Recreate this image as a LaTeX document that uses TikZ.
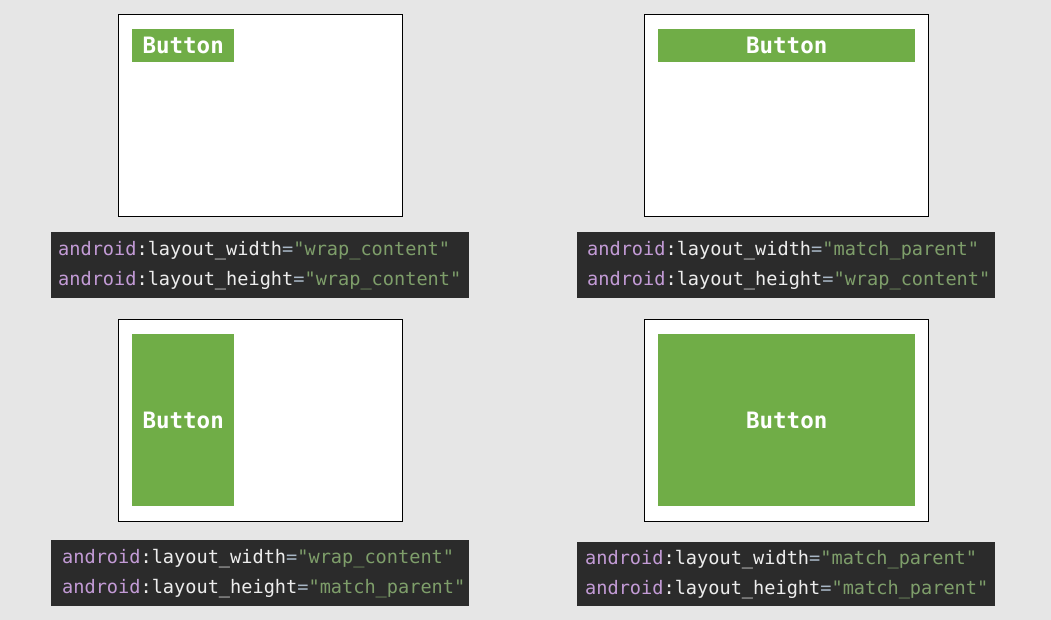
\documentclass[tikz,border=0pt]{standalone}
\usepackage{fontspec}
\setmonofont{DejaVu Sans Mono}
\usepackage{xcolor}
\definecolor{pagebg}{HTML}{E6E6E6}
\definecolor{codebg}{HTML}{2B2B2B}
\definecolor{btngreen}{HTML}{70AD47}
\definecolor{attrpurple}{HTML}{C39BD6}
\definecolor{attrwhite}{HTML}{EDEDED}
\definecolor{eqgray}{HTML}{A9B7C6}
\definecolor{strgreen}{HTML}{7E9E6A}
\newcommand{\xmlattr}[2]{\textcolor{attrpurple}{android}\textcolor{attrwhite}{:#1}\textcolor{eqgray}{=}\textcolor{strgreen}{"#2"}}
\tikzset{
  panel/.style={draw=black,fill=white,line width=0.8pt,anchor=north west,minimum width=284pt,minimum height=202pt,inner sep=0pt},
  btn/.style={fill=btngreen,text=white,anchor=north west,inner sep=0pt,font=\ttfamily\bfseries\fontsize{22.5}{24}\selectfont},
  codebox/.style={fill=codebg,anchor=north west,inner ysep=0pt,inner xsep=7pt,text width=404pt,minimum height=66pt,align=left,font=\ttfamily\fontsize{18.6}{30}\selectfont}
}
\begin{document}
\begin{tikzpicture}[x=1pt,y=-1pt]
	\useasboundingbox[fill=pagebg] (0,0) rectangle (1051,620);
	% wrap / wrap
	\node[panel] at (118,14) (p1) {};
	\node[btn,minimum width=102pt,minimum height=33pt] at (132,29) (b1) {Button};
	\node[codebox] at (51,232) (c1) {\xmlattr{layout\_width}{wrap\_content}\\\xmlattr{layout\_height}{wrap\_content}};
	% match / wrap
	\node[panel] at (644,14) (p2) {};
	\node[btn,minimum width=257pt,minimum height=33pt] at (658,29) (b2) {Button};
	\node[codebox,inner xsep=10pt,text width=398pt] at (577,232) (c2) {\xmlattr{layout\_width}{match\_parent}\\\xmlattr{layout\_height}{wrap\_content}};
	% wrap / match
	\node[panel] at (118,319) (p3) {};
	\node[btn,minimum width=102pt,minimum height=172pt] at (132,334) (b3) {Button};
	\node[codebox,inner xsep=11pt,text width=396pt] at (51,540) (c3) {\xmlattr{layout\_width}{wrap\_content}\\\xmlattr{layout\_height}{match\_parent}};
	% match / match
	\node[panel] at (644,319) (p4) {};
	\node[btn,minimum width=257pt,minimum height=172pt] at (658,334) (b4) {Button};
	\node[codebox,inner xsep=8pt,text width=402pt,minimum height=64pt] at (577,542) (c4) {\xmlattr{layout\_width}{match\_parent}\\\xmlattr{layout\_height}{match\_parent}};
\end{tikzpicture}
\end{document}
